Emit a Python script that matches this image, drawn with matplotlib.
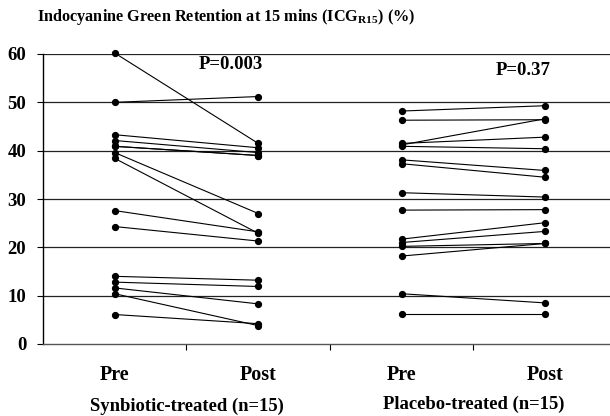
import matplotlib
matplotlib.use("Agg")
import matplotlib.pyplot as plt
from matplotlib.transforms import blended_transform_factory

plt.rcParams['font.family'] = ['Liberation Serif', 'DejaVu Serif']
plt.rcParams['mathtext.fontset'] = 'custom'
plt.rcParams['mathtext.rm'] = 'Liberation Serif'
plt.rcParams['mathtext.bf'] = 'Liberation Serif:bold'

title = r'Indocyanine Green Retention at 15 mins (ICG$_{\mathbf{R15}}$) (%)'
time_labels = ['Pre', 'Post', 'Pre', 'Post']
group_labels = ['Synbiotic-treated (n=15)', 'Placebo-treated (n=15)']
p_values = ['P=0.003', 'P=0.37']
y_ticks = [0, 10, 20, 30, 40, 50, 60]

synbiotic_pre = [60.2, 50.0, 43.3, 42.1, 40.9, 40.9, 39.6, 38.4, 27.6, 24.3, 14.0, 12.8, 11.6, 10.4, 6.1]
synbiotic_post = [41.5, 51.2, 40.6, 39.6, 39.0, 39.0, 27.0, 22.9, 23.2, 21.3, 13.2, 11.9, 8.3, 3.8, 4.2]
placebo_pre = [48.2, 46.3, 41.5, 41.2, 40.9, 38.1, 37.3, 31.3, 27.7, 21.7, 21.0, 20.2, 18.2, 10.4, 6.3]
placebo_post = [49.3, 46.4, 42.8, 46.6, 40.4, 35.9, 34.5, 30.4, 27.8, 25.1, 23.3, 20.8, 20.8, 8.5, 6.3]

fig = plt.figure(figsize=(6.1, 4.16), dpi=100)
ax = fig.add_axes([43/610, 72/416, 574/610, 290/416])

positions = [0.5, 1.5, 2.5, 3.5]
for pre_vals, post_vals, (x0, x1) in [(synbiotic_pre, synbiotic_post, (0.5, 1.5)),
                                       (placebo_pre, placebo_post, (2.5, 3.5))]:
    for a, b in zip(pre_vals, post_vals):
        ax.plot([x0, x1], [a, b], color='black', lw=0.8, marker='o', ms=4.2,
                mfc='black', mec='black', zorder=3, clip_on=False)

for y in y_ticks[1:]:
    ax.axhline(y, color='#222222', lw=0.9, zorder=1)

ax.set_xlim(0, 4)
ax.set_ylim(0, 60)
for s in ['top', 'right']:
    ax.spines[s].set_visible(False)
ax.spines['left'].set_linewidth(1.0)
ax.spines['bottom'].set_linewidth(1.0)
ax.spines['bottom'].set_color('#555555')

ax.set_yticks(y_ticks)
ax.set_yticklabels([str(v) for v in y_ticks], fontsize=13.5, fontweight='bold')
ax.tick_params(axis='y', direction='out', length=4, width=0.8, pad=8)

ax.set_xticks([1, 2, 3])
ax.set_xticklabels([])
ax.tick_params(axis='x', direction='out', length=4, width=0.8)
ax.set_xticks(positions, minor=True)
ax.set_xticklabels(time_labels, minor=True, fontsize=14.5, fontweight='bold')
ax.tick_params(axis='x', which='minor', length=0, pad=15)

trans = blended_transform_factory(ax.transData, fig.transFigure)
ax.text(1, 1 - 406/416, group_labels[0], transform=trans, ha='center', va='center',
        fontsize=13.4, fontweight='bold')
ax.text(3, 1 - 404/416, group_labels[1], transform=trans, ha='center', va='center',
        fontsize=13.4, fontweight='bold')

ax.text(1.31, 57.8, p_values[0], ha='center', va='center', fontsize=13.5, fontweight='bold')
ax.text(3.345, 56.6, p_values[1], ha='center', va='center', fontsize=13.5, fontweight='bold')

fig.text(37/610, 1 - 17/416, title, ha='left', va='center', fontsize=11.7, fontweight='bold')

fig.savefig('out.png', dpi=100)
